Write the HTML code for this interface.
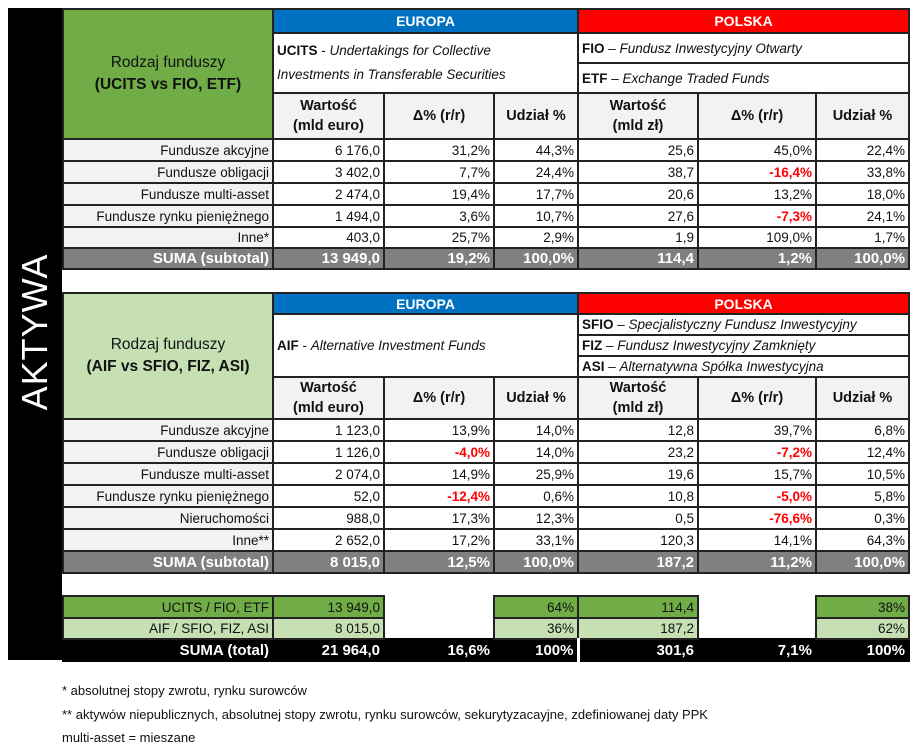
<!DOCTYPE html>
<html><head><meta charset="utf-8"><style>
body{margin:0;width:919px;height:751px;background:#fff;position:relative;overflow:hidden;font-family:"Liberation Sans",sans-serif;color:#111}
.blk{position:absolute;left:8px;top:8px;width:54px;height:652px;background:#000}
.vt{position:absolute;left:35px;top:332px;transform:translate(-50%,-50%) rotate(-90deg);color:#fff;font-size:36px;letter-spacing:1px;white-space:nowrap}
table{position:absolute;left:62px;border-collapse:collapse;table-layout:fixed;width:846px;font-size:13.5px}
td{border:2px solid #222;padding:0 3px;overflow:hidden;white-space:nowrap;text-align:right;box-sizing:border-box}
.eu{background:#0070c0;color:#fff;font-weight:bold;text-align:center;font-size:14px}
.pl{background:#f00;color:#fff;font-weight:bold;text-align:center;font-size:14px}
.gh{background:#70ad47;text-align:center;font-size:15.5px;line-height:22px}
.lgh{background:#c6e0b4;text-align:center;font-size:15.5px;line-height:22px}
.hd{background:#f2f2f2;font-weight:bold;text-align:center;line-height:20px;font-size:14.5px}
.lb{background:#f2f2f2}
.su td{background:#808080;color:#fff;font-weight:bold;font-size:15px}
.d{text-align:left;font-size:13.5px}
.r{color:#f00;font-weight:bold}
i{font-style:italic}
.g{background:#70ad47}.lg{background:#c6e0b4}
.tot td{background:#000;color:#fff;font-weight:bold;font-size:15px}
.fn{position:absolute;left:62px;font-size:13px;color:#111}
</style></head><body>
<div class="blk"></div><div class="vt">AKTYWA</div>

<table style="top:8px">
<colgroup><col style="width:210px"><col style="width:111px"><col style="width:110px"><col style="width:84px"><col style="width:120px"><col style="width:118px"><col style="width:93px"></colgroup>
<tr style="height:24px"><td rowspan="4" class="gh">Rodzaj funduszy<br><b>(UCITS vs FIO, ETF)</b></td><td colspan="3" class="eu">EUROPA</td><td colspan="3" class="pl">POLSKA</td></tr>
<tr style="height:30px"><td colspan="3" rowspan="2" class="d" style="line-height:24px"><b>UCITS</b> - <i>Undertakings for Collective<br>Investments in Transferable Securities</i></td><td colspan="3" class="d"><b>FIO</b> – <i>Fundusz Inwestycyjny Otwarty</i></td></tr>
<tr style="height:30px"><td colspan="3" class="d"><b>ETF</b> – <i>Exchange Traded Funds</i></td></tr>
<tr style="height:46px"><td class="hd">Wartość<br>(mld euro)</td><td class="hd">Δ% (r/r)</td><td class="hd">Udział %</td><td class="hd">Wartość<br>(mld zł)</td><td class="hd">Δ% (r/r)</td><td class="hd">Udział %</td></tr>
<tr style="height:22px"><td class="lb">Fundusze akcyjne</td><td>6 176,0</td><td>31,2%</td><td>44,3%</td><td>25,6</td><td>45,0%</td><td>22,4%</td></tr>
<tr style="height:22px"><td class="lb">Fundusze obligacji</td><td>3 402,0</td><td>7,7%</td><td>24,4%</td><td>38,7</td><td class="r">-16,4%</td><td>33,8%</td></tr>
<tr style="height:22px"><td class="lb">Fundusze multi-asset</td><td>2 474,0</td><td>19,4%</td><td>17,7%</td><td>20,6</td><td>13,2%</td><td>18,0%</td></tr>
<tr style="height:22px"><td class="lb">Fundusze rynku pieniężnego</td><td>1 494,0</td><td>3,6%</td><td>10,7%</td><td>27,6</td><td class="r">-7,3%</td><td>24,1%</td></tr>
<tr style="height:21px"><td class="lb">Inne*</td><td>403,0</td><td>25,7%</td><td>2,9%</td><td>1,9</td><td>109,0%</td><td>1,7%</td></tr>
<tr class="su" style="height:21px"><td>SUMA (subtotal)</td><td>13 949,0</td><td>19,2%</td><td>100,0%</td><td>114,4</td><td>1,2%</td><td>100,0%</td></tr>
</table>

<table style="top:292px">
<colgroup><col style="width:210px"><col style="width:111px"><col style="width:110px"><col style="width:84px"><col style="width:120px"><col style="width:118px"><col style="width:93px"></colgroup>
<tr style="height:21px"><td rowspan="5" class="lgh">Rodzaj funduszy<br><b>(AIF vs SFIO, FIZ, ASI)</b></td><td colspan="3" class="eu">EUROPA</td><td colspan="3" class="pl">POLSKA</td></tr>
<tr style="height:21px"><td colspan="3" rowspan="3" class="d"><b>AIF</b> - <i>Alternative Investment Funds</i></td><td colspan="3" class="d"><b>SFIO</b> – <i>Specjalistyczny Fundusz Inwestycyjny</i></td></tr>
<tr style="height:21px"><td colspan="3" class="d"><b>FIZ</b> – <i>Fundusz Inwestycyjny Zamknięty</i></td></tr>
<tr style="height:21px"><td colspan="3" class="d"><b>ASI</b> – <i>Alternatywna Spółka Inwestycyjna</i></td></tr>
<tr style="height:40px"><td class="hd">Wartość<br>(mld euro)</td><td class="hd">Δ% (r/r)</td><td class="hd">Udział %</td><td class="hd">Wartość<br>(mld zł)</td><td class="hd">Δ% (r/r)</td><td class="hd">Udział %</td></tr>
<tr style="height:22px"><td class="lb">Fundusze akcyjne</td><td>1 123,0</td><td>13,9%</td><td>14,0%</td><td>12,8</td><td>39,7%</td><td>6,8%</td></tr>
<tr style="height:22px"><td class="lb">Fundusze obligacji</td><td>1 126,0</td><td class="r">-4,0%</td><td>14,0%</td><td>23,2</td><td class="r">-7,2%</td><td>12,4%</td></tr>
<tr style="height:22px"><td class="lb">Fundusze multi-asset</td><td>2 074,0</td><td>14,9%</td><td>25,9%</td><td>19,6</td><td>15,7%</td><td>10,5%</td></tr>
<tr style="height:22px"><td class="lb">Fundusze rynku pieniężnego</td><td>52,0</td><td class="r">-12,4%</td><td>0,6%</td><td>10,8</td><td class="r">-5,0%</td><td>5,8%</td></tr>
<tr style="height:22px"><td class="lb">Nieruchomości</td><td>988,0</td><td>17,3%</td><td>12,3%</td><td>0,5</td><td class="r">-76,6%</td><td>0,3%</td></tr>
<tr style="height:22px"><td class="lb">Inne**</td><td>2 652,0</td><td>17,2%</td><td>33,1%</td><td>120,3</td><td>14,1%</td><td>64,3%</td></tr>
<tr class="su" style="height:22px"><td>SUMA (subtotal)</td><td>8 015,0</td><td>12,5%</td><td>100,0%</td><td>187,2</td><td>11,2%</td><td>100,0%</td></tr>
</table>

<table style="top:595px">
<colgroup><col style="width:210px"><col style="width:111px"><col style="width:110px"><col style="width:84px"><col style="width:120px"><col style="width:118px"><col style="width:93px"></colgroup>
<tr style="height:22px"><td class="g">UCITS / FIO, ETF</td><td class="g">13 949,0</td><td style="border:none"></td><td class="g">64%</td><td class="g">114,4</td><td style="border:none"></td><td class="g">38%</td></tr>
<tr style="height:21px"><td class="lg">AIF / SFIO, FIZ, ASI</td><td class="lg">8 015,0</td><td style="border:none"></td><td class="lg">36%</td><td class="lg">187,2</td><td style="border:none"></td><td class="lg">62%</td></tr>
<tr class="tot" style="height:22px"><td style="border-color:#000">SUMA (total)</td><td style="border-color:#000">21 964,0</td><td style="border-color:#000">16,6%</td><td style="border-color:#000;border-right:3px solid #fff">100%</td><td style="border-color:#000">301,6</td><td style="border-color:#000">7,1%</td><td style="border-color:#000">100%</td></tr>
</table>

<div class="fn" style="top:683px">* absolutnej stopy zwrotu, rynku surowców</div>
<div class="fn" style="top:707px">** aktywów niepublicznych, absolutnej stopy zwrotu, rynku surowców, sekurytyzacayjne, zdefiniowanej daty PPK</div>
<div class="fn" style="top:730px">multi-asset = mieszane</div>
</body></html>
